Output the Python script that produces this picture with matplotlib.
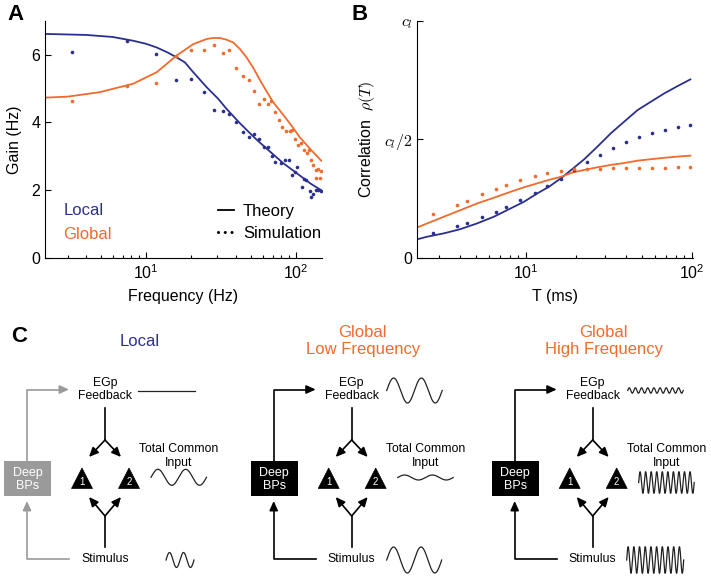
import numpy as np
import matplotlib
matplotlib.use("Agg")
from matplotlib import pyplot as plt
from matplotlib.patches import Polygon, Rectangle
from matplotlib.lines import Line2D
from matplotlib.ticker import NullFormatter

plt.rcParams['font.family'] = ['Liberation Sans', 'DejaVu Sans']
plt.rcParams['mathtext.fontset'] = 'cm'

BLUE = '#2b3090'
ORANGE = '#f26a2c'

# --- panel A: gain vs frequency ---
a_local_th_f = [2.12, 4.0, 6.0, 8.2, 10.0, 11.8, 14.0, 16.0, 18.2, 20.7, 25.4, 30.3, 34.5, 42.3, 51.9, 56.1, 63.8, 82.3, 106, 125, 148]
a_local_th_g = [6.61, 6.58, 6.52, 6.41, 6.32, 6.21, 6.06, 5.92, 5.77, 5.48, 5.04, 4.70, 4.40, 3.98, 3.59, 3.45, 3.23, 2.80, 2.44, 2.20, 2.00]
a_global_th_f = [2.12, 3.0, 4.9, 8.2, 11.8, 16.0, 20.7, 25.4, 28.0, 31.1, 34.5, 38.2, 42.3, 46.9, 51.9, 57.5, 63.8, 70.6, 78.0, 86.7, 96.0, 106, 124, 148]
a_global_th_g = [4.73, 4.76, 4.89, 5.14, 5.48, 5.97, 6.31, 6.46, 6.49, 6.49, 6.44, 6.36, 6.17, 5.92, 5.62, 5.26, 4.92, 4.60, 4.36, 4.10, 3.84, 3.57, 3.23, 2.87]

a_local_sim_f = [3.2, 7.5, 11.6, 15.8, 20.0, 24.4, 28.5, 32.8, 35.9, 40.2, 44.6, 48.9, 52.7, 56.7, 61.5, 65.4, 69.2, 73.2, 80.2, 85.2, 89.8, 94.5, 98.4, 101.9, 110.2, 113.6, 117.8, 124, 127, 130, 136, 141, 148]
a_local_sim_g = [6.07, 6.41, 6.02, 5.24, 5.28, 4.91, 4.38, 4.35, 4.25, 4.01, 3.72, 3.57, 3.67, 3.52, 3.26, 3.27, 3.00, 2.83, 2.81, 2.88, 2.90, 2.44, 2.54, 2.69, 2.10, 2.34, 2.29, 1.98, 1.80, 1.88, 2.02, 2.00, 1.98]
a_global_sim_f = [3.2, 7.5, 11.6, 15.8, 20.0, 24.4, 28.5, 32.8, 35.9, 40.2, 44.6, 48.9, 52.7, 56.9, 61.5, 65.4, 68.8, 73.2, 77.0, 81.5, 86.7, 91.2, 94.5, 98.4, 103.5, 109, 113.6, 119.6, 122, 127, 130, 136, 137, 141, 144.5, 148]
a_global_sim_g = [4.62, 5.07, 5.17, 5.97, 6.15, 6.15, 6.29, 6.04, 6.15, 5.61, 5.36, 5.25, 4.92, 4.55, 4.68, 4.55, 4.62, 4.30, 4.06, 3.86, 3.74, 3.76, 3.78, 3.52, 3.32, 3.39, 3.18, 3.10, 3.20, 2.88, 2.74, 2.59, 2.37, 2.62, 2.37, 2.57]

# --- panel B: correlation vs T (units of c_l) ---
b_th_T = [2.23, 2.56, 3.22, 4.06, 5.11, 6.44, 8.12, 9.77, 11.8, 13.8, 16.3, 19.1, 22.5, 27.0, 32.5, 39.1, 47.1, 56.6, 68.1, 82.0, 97.8]
b_local_th = [0.080, 0.091, 0.105, 0.123, 0.147, 0.175, 0.210, 0.238, 0.274, 0.301, 0.337, 0.376, 0.417, 0.470, 0.526, 0.575, 0.624, 0.659, 0.694, 0.725, 0.753]
b_global_th = [0.130, 0.147, 0.175, 0.203, 0.231, 0.255, 0.280, 0.299, 0.316, 0.330, 0.343, 0.361, 0.372, 0.383, 0.393, 0.401, 0.411, 0.417, 0.423, 0.428, 0.432]
b_sim_T = [2.78, 3.88, 4.41, 5.48, 6.59, 7.65, 9.25, 11.3, 13.5, 16.3, 19.5, 23.3, 28.0, 33.3, 40.0, 48.2, 57.4, 68.7, 82.0, 97.8]
b_local_sim = [0.108, 0.137, 0.150, 0.175, 0.196, 0.217, 0.244, 0.276, 0.304, 0.335, 0.370, 0.405, 0.436, 0.464, 0.490, 0.511, 0.526, 0.540, 0.551, 0.561]
b_global_sim = [0.185, 0.224, 0.241, 0.269, 0.292, 0.309, 0.330, 0.346, 0.359, 0.369, 0.375, 0.376, 0.377, 0.379, 0.380, 0.380, 0.380, 0.381, 0.383, 0.383]

# --- panel C: schematics ---
c_titles = ['Local', 'Global\nLow Frequency', 'Global\nHigh Frequency']
c_title_colors = [BLUE, ORANGE, ORANGE]
c_loop_colors = ['#9a9a9a', 'black', 'black']
feedback_cycles = [0, 2, 9]
feedback_amp = [0, 12.5, 2.7]
common_cycles = [2, 2, 10]
common_amp = [8, 2.5, 10.8]
stim_cycles = [2, 2, 10]
stim_amp = [7.5, 13, 13.3]

W, H = 711, 579
fig = plt.figure(figsize=(W / 100, H / 100), dpi=100)


def px_axes(x0, y0, x1, y1):
    return fig.add_axes([x0 / W, 1 - y1 / H, (x1 - x0) / W, (y1 - y0) / H])


def style(ax):
    for s in ['top', 'right']:
        ax.spines[s].set_visible(False)
    for s in ['left', 'bottom']:
        ax.spines[s].set_linewidth(0.8)
    ax.tick_params(which='both', direction='in', labelsize=11.5, width=0.8)
    ax.tick_params(which='major', length=4)
    ax.tick_params(which='minor', length=2.5)
    ax.set_xscale('log')
    ax.xaxis.set_minor_formatter(NullFormatter())


# overlay axes in pixel units for the schematics and letters
axC = fig.add_axes([0, 0, 1, 1])
axC.set_xlim(0, W)
axC.set_ylim(H, 0)
axC.axis('off')

axA = px_axes(45, 20.7, 321.7, 258)
axB = px_axes(417.3, 20.7, 692.7, 258.3)

# Panel A
style(axA)
axA.plot(a_local_th_f, a_local_th_g, color=BLUE, lw=1.3)
axA.plot(a_global_th_f, a_global_th_g, color=ORANGE, lw=1.3)
axA.plot(a_local_sim_f, a_local_sim_g, 'o', color=BLUE, ms=2.6, mec='none')
axA.plot(a_global_sim_f, a_global_sim_g, 'o', color=ORANGE, ms=2.6, mec='none')
axA.set_xlim(2.12, 149)
axA.set_ylim(0, 7)
axA.set_yticks([0, 2, 4, 6])
axA.set_xlabel('Frequency (Hz)', fontsize=11.5)
axA.set_ylabel('Gain (Hz)', fontsize=11.5)
axA.xaxis.set_label_coords(0.5, -0.13)
axA.yaxis.set_label_coords(-0.083, 0.5)
axA.text(0.066, 0.202, 'Local', color=BLUE, fontsize=12, va='center', transform=axA.transAxes)
axA.text(0.066, 0.100, 'Global', color=ORANGE, fontsize=12, va='center', transform=axA.transAxes)
handles = [Line2D([], [], color='k', lw=1.3),
           Line2D([], [], color='k', lw=2.2, ls=(0, (0.01, 2.2)), dash_capstyle='round')]
axA.legend(handles, ['Theory', 'Simulation'], loc='center left', bbox_to_anchor=(0.625, 0.151),
           frameon=False, fontsize=12, handlelength=0.95, handletextpad=0.55,
           labelspacing=0.4, borderpad=0, borderaxespad=0)

# Panel B
style(axB)
axB.plot(b_th_T, b_local_th, color=BLUE, lw=1.3)
axB.plot(b_th_T, b_global_th, color=ORANGE, lw=1.3)
axB.plot(b_sim_T, b_local_sim, 'o', color=BLUE, ms=2.6, mec='none')
axB.plot(b_sim_T, b_global_sim, 'o', color=ORANGE, ms=2.6, mec='none')
axB.set_xlim(2.23, 101)
axB.set_ylim(0, 1)
axB.set_yticks([0, 0.5, 1])
axB.set_yticklabels(['0', '$c_l/2$', '$c_l$'])
axB.set_xlabel('T (ms)', fontsize=11.5)
axB.set_ylabel(r'Correlation  $\rho(T)$', fontsize=11.5)
axB.xaxis.set_label_coords(0.5, -0.13)
axB.yaxis.set_label_coords(-0.146, 0.5)

# panel letters
for lbl, x, y in [('A', 16, 15), ('B', 360, 15), ('C', 19, 336)]:
    axC.text(x, y, lbl, fontsize=16, fontweight='bold', ha='center', va='center')


def arrow(p0, p1, color):
    axC.annotate('', xy=p1, xytext=p0,
                 arrowprops=dict(arrowstyle='-|>,head_length=0.55,head_width=0.25', color=color,
                                 lw=1.2, shrinkA=0, shrinkB=0, mutation_scale=10))


def wave(x0, x1, yc, amp, cycles, lw=0.9):
    t = np.linspace(0, 1, 400)
    axC.plot(x0 + (x1 - x0) * t, yc - amp * np.sin(2 * np.pi * cycles * t), color='#222222', lw=lw)


col_x = [105, 351.7, 592.7]
stim_start = [61, 35, 34]
stim_end = [89, 90, 91]
common_yc = [477.3, 477.5, 482.5]

for i, cx in enumerate(col_x):
    lc = c_loop_colors[i]
    axC.text(cx + (35 if i == 0 else 11), 341, c_titles[i], color=c_title_colors[i], fontsize=12,
             ha='center', va='center', linespacing=1.15)
    axC.text(cx, 389.5, 'EGp\nFeedback', fontsize=8.8, ha='center', va='center', linespacing=1.2)
    axC.text(cx, 559.5, 'Stimulus', fontsize=8.8, ha='center', va='center')
    axC.text(cx + 73.5, 456, 'Total Common\nInput', fontsize=8.8, ha='center', va='center', linespacing=1.2)

    # feedback down to the two cells
    axC.plot([cx, cx], [408, 440], color='k', lw=1.2)
    arrow((cx, 440), (cx - 16, 457), 'k')
    arrow((cx, 440), (cx + 16, 457), 'k')
    # stimulus up to the two cells
    axC.plot([cx, cx], [547, 516], color='k', lw=1.2)
    arrow((cx, 516), (cx - 16, 497), 'k')
    arrow((cx, 516), (cx + 16, 497), 'k')

    # pyramidal cells
    for tx, num in [(cx - 23, '1'), (cx + 24, '2')]:
        axC.add_patch(Polygon([[tx - 10.5, 488.5], [tx + 10.5, 488.5], [tx, 468]], closed=True,
                              fc='black', ec='black', lw=0.5))
        axC.text(tx, 482, num, color='white', fontsize=7, ha='center', va='center')

    # deep BPs loop
    bx = cx - 78
    axC.add_patch(Rectangle((cx - 101, 461), 47, 35, fc='#9a9a9a' if i == 0 else 'black', ec='none'))
    axC.text(cx - 77.5, 479.5, 'Deep\nBPs', color='white', fontsize=9, ha='center', va='center',
             linespacing=1.15)
    axC.plot([bx, bx, cx - 45], [461, 389.5, 389.5], color=lc, lw=1.2)
    arrow((cx - 45, 389.5), (cx - 36, 389.5), lc)
    axC.plot([cx - 36, bx, bx], [558.5, 558.5, 510], color=lc, lw=1.2)
    arrow((bx, 510), (bx, 501), lc)

    # signal traces
    if feedback_cycles[i] == 0:
        axC.plot([cx + 33, cx + 90], [390.7, 390.7], color='#222222', lw=0.9)
    else:
        wave(cx + 35, cx + 90.5, 390.5, feedback_amp[i], feedback_cycles[i])
    wave(cx + 46, cx + 101.5, common_yc[i], common_amp[i], common_cycles[i])
    wave(cx + stim_start[i], cx + stim_end[i], 560, stim_amp[i], stim_cycles[i])

fig.savefig('out.png', dpi=100)
